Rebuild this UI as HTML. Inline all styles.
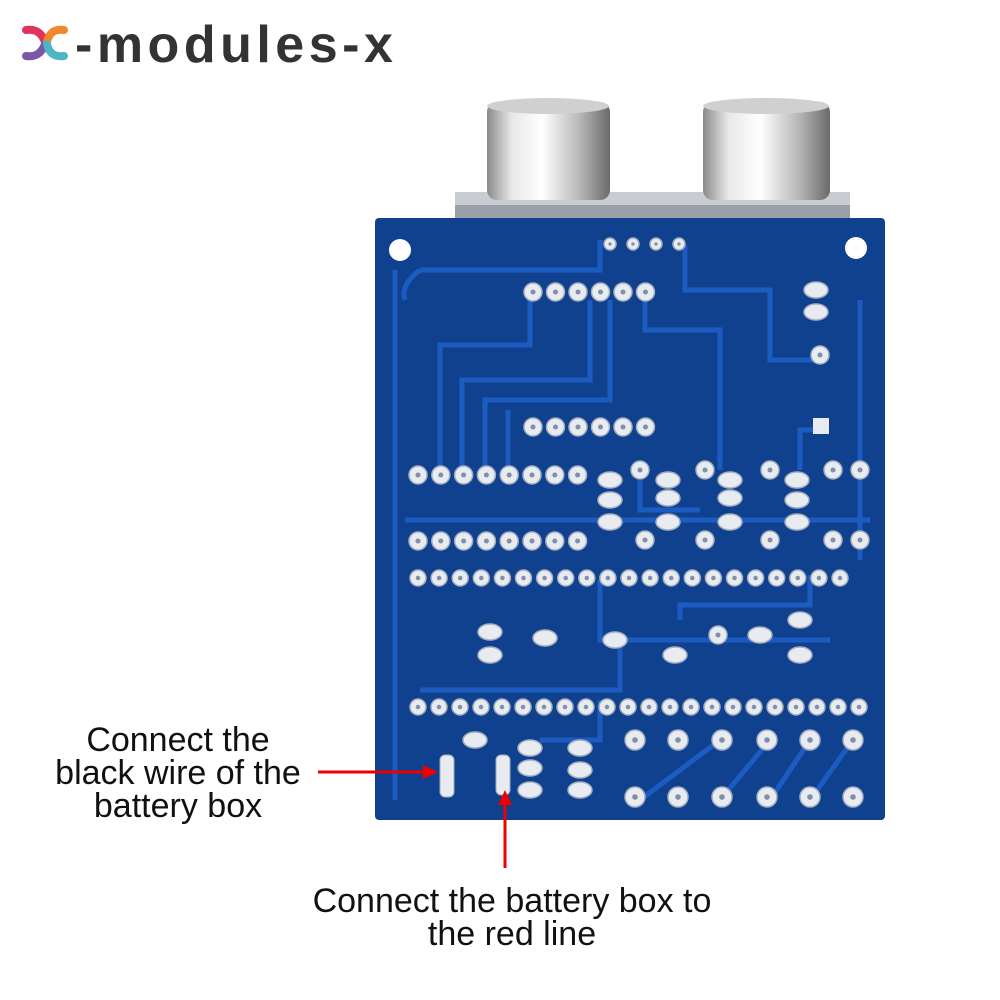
<!DOCTYPE html>
<html><head><meta charset="utf-8"><style>
body{margin:0;background:#fff;width:1000px;height:1000px;overflow:hidden;position:relative;font-family:"Liberation Sans",sans-serif}
.lbl{position:absolute;color:#111;font-size:34px;line-height:33px;text-align:center}
</style></head><body>
<svg width="1000" height="1000" style="position:absolute;left:0;top:0">
<defs>
<linearGradient id="cyl" x1="0" x2="1" y1="0" y2="0">
<stop offset="0" stop-color="#8a8a8a"/><stop offset="0.2" stop-color="#e8e8e8"/><stop offset="0.45" stop-color="#ffffff"/><stop offset="0.75" stop-color="#b8b8b8"/><stop offset="1" stop-color="#6a6a6a"/>
</linearGradient>
</defs>
<path d="M26 30 Q40 28 45 42" stroke="#e0335e" stroke-width="8" fill="none" stroke-linecap="round"/>
<path d="M26 56 Q40 58 45 44" stroke="#7b57a6" stroke-width="8" fill="none" stroke-linecap="round"/>
<path d="M64 30 Q50 28 47 42" stroke="#f0892b" stroke-width="8" fill="none" stroke-linecap="round"/>
<path d="M64 56 Q50 58 47 44" stroke="#4fb5c6" stroke-width="8" fill="none" stroke-linecap="round"/>
<text x="75" y="62" font-family="Liberation Sans" font-weight="bold" font-size="52" letter-spacing="4.5" fill="#333">-modules-x</text>
<rect x="455" y="192" width="395" height="32" fill="#c9ccd0"/>
<rect x="455" y="205" width="395" height="14" fill="#9aa0a8"/>
<rect x="487" y="102" width="123" height="98" rx="10" fill="url(#cyl)"/>
<ellipse cx="548" cy="106" rx="61" ry="8" fill="#d0d0d0"/>
<rect x="703" y="102" width="127" height="98" rx="10" fill="url(#cyl)"/>
<ellipse cx="766" cy="106" rx="63" ry="8" fill="#d0d0d0"/>
<rect x="375" y="218" width="510" height="602" rx="4" fill="#0f418f"/>
<circle cx="400" cy="250" r="11" fill="#fff"/>
<circle cx="856" cy="248" r="11" fill="#fff"/>
<g stroke="#1c5cc0" stroke-width="5" fill="none">
<path d="M395 270 V800"/>
<path d="M405 520 H870"/>
<path d="M420 270 Q400 285 405 300 M420 270 H600 V240"/>
<path d="M440 470 V345 H530 V292"/>
<path d="M462 470 V380 H590 V300"/>
<path d="M485 470 V400 H610 V300"/>
<path d="M508 470 V410"/>
<path d="M645 300 V330 H720 V470"/>
<path d="M685 245 V290 H770 V360 H820"/>
<path d="M860 300 V560"/>
<path d="M420 690 H620 V640"/>
<path d="M600 580 V640 H830"/>
<path d="M680 620 V605 H810 V575"/>
<path d="M720 740 L640 800 M770 740 L720 800 M810 740 L770 800 M853 740 L810 800"/>
<path d="M540 740 H600 V700"/>
<path d="M800 470 V430 H820"/>
<path d="M640 480 V510 H700"/>
</g>
</svg>
<svg width="1000" height="1000" style="position:absolute;left:0;top:0" id="pads"></svg>
<div class="lbl" style="left:28px;top:724px;width:300px">Connect the<br>black wire of the<br>battery box</div>
<div class="lbl" style="left:262px;top:885px;width:500px">Connect the battery box to<br>the red line</div>
<svg width="1000" height="1000" style="position:absolute;left:0;top:0">
<line x1="318" y1="772" x2="425" y2="772" stroke="#e00" stroke-width="3"/>
<polygon points="438,772 423,765 423,779" fill="#e00"/>
<line x1="505" y1="868" x2="505" y2="803" stroke="#e00" stroke-width="3"/>
<polygon points="505,790 498,805 512,805" fill="#e00"/>
</svg>
<script>
var s=document.getElementById('pads'),h='';
function c(x,y,r){h+='<circle cx="'+x+'" cy="'+y+'" r="'+r+'" fill="#e8ebef" stroke="#a4aebf" stroke-width="1.5"/><circle cx="'+x+'" cy="'+y+'" r="'+(r*0.28)+'" fill="#8090a8"/>';}
function e(x,y){h+='<ellipse cx="'+x+'" cy="'+y+'" rx="12" ry="8" fill="#e8ebef" stroke="#a4aebf" stroke-width="1.5"/>';}
for(var i=0;i<21;i++)c(418+i*21.1,578,8);
for(var i=0;i<22;i++)c(418+i*21,707,8);
for(var i=0;i<8;i++){c(418+i*22.8,475,9);c(418+i*22.8,541,9);}
for(var i=0;i<6;i++){c(533+i*22.5,292,9);c(533+i*22.5,427,9);}
for(var i=0;i<4;i++)c(610+i*23,244,6);
[635,678,722,767,810,853].forEach(function(x){c(x,740,10);c(x,797,10);});
[[610,480],[610,500],[610,522],[668,480],[668,498],[668,522],[730,480],[730,498],[730,522],[797,480],[797,500],[797,522],[816,290],[816,312],[490,632],[490,655],[545,638],[615,640],[675,655],[760,635],[800,620],[800,655],[475,740],[530,748],[530,768],[530,790],[580,748],[580,770],[580,790]].forEach(function(p){e(p[0],p[1]);});
[[640,470],[705,470],[770,470],[833,470],[860,470],[645,540],[705,540],[770,540],[833,540],[860,540],[718,635],[820,355]].forEach(function(p){c(p[0],p[1],9);});
h+='<rect x="440" y="755" width="14" height="42" rx="5" fill="#e8ebef" stroke="#a4aebf"/><rect x="496" y="755" width="14" height="40" rx="5" fill="#e8ebef" stroke="#a4aebf"/>';
h+='<rect x="813" y="418" width="16" height="16" fill="#e8ebef"/>';
s.innerHTML=h;
</script>
</body></html>
